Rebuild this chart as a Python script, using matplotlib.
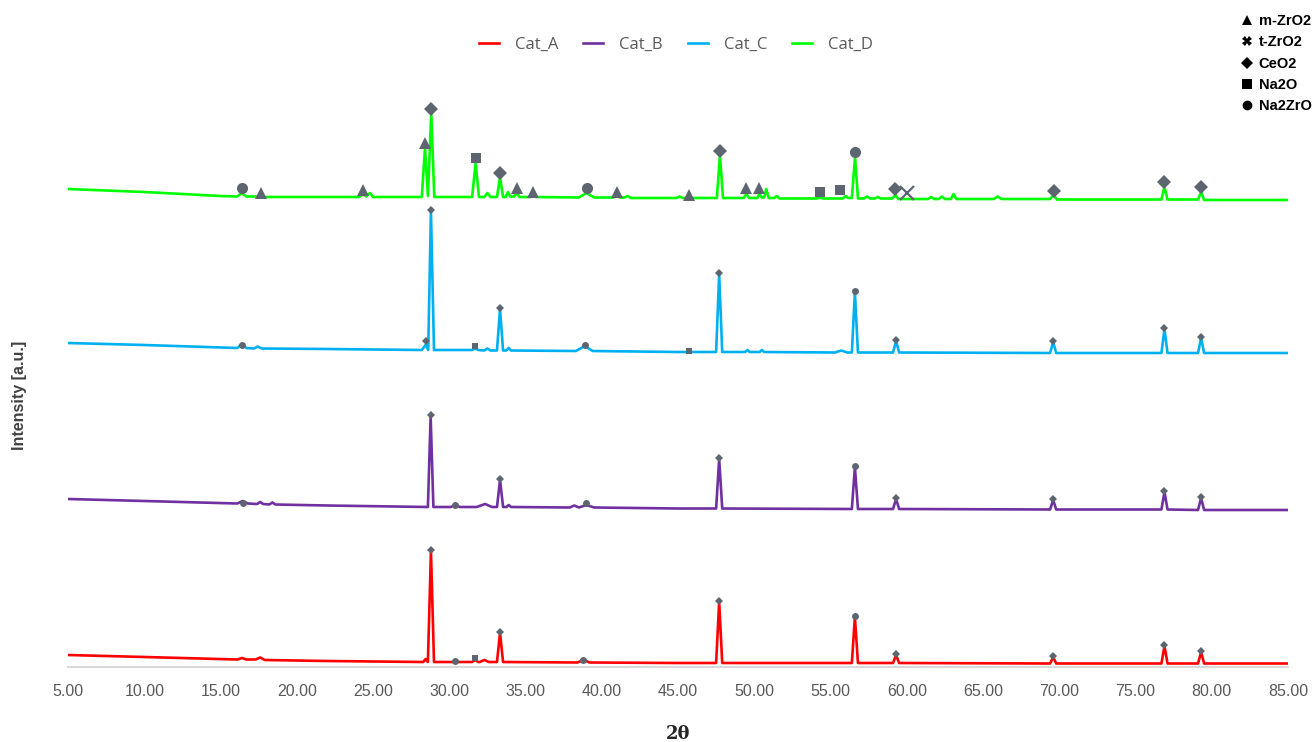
import matplotlib.pyplot as plt
from matplotlib.lines import Line2D

# 2-theta positions and intensities (intensity in a.u., stacked)
tt_a = [5, 10, 16.1, 16.4, 16.7, 17.3, 17.6, 17.9, 22, 28.3, 28.45, 28.6, 28.8, 29.0,
        31.5, 31.7, 31.9, 32.0, 32.3, 32.6, 33.13, 33.33, 33.53, 38.4, 38.8, 39.2, 45,
        47.5, 47.7, 47.9, 56.4, 56.6, 56.8, 59.1, 59.3, 59.5, 69.4, 69.6, 69.8,
        76.7, 76.9, 77.1, 79.1, 79.3, 79.5, 85]
int_a = [12, 10, 7.5, 9, 7.5, 7.5, 9.5, 7, 6, 5, 8, 5, 116, 5,
         5, 7, 5, 5, 7, 5, 5, 34, 5, 4.5, 7, 4.5, 4,
         4, 65, 4, 4, 50, 4, 4, 12, 4, 3.5, 10, 3.5,
         3.5, 21, 3.5, 3.5, 15, 3.5, 3.5]

tt_b = [5, 10, 16.1, 16.45, 16.8, 17.4, 17.6, 17.8, 18.2, 18.4, 18.6, 22, 28.6, 28.78, 28.96,
        30.1, 30.4, 30.7, 31.8, 32.35, 32.8, 33.13, 33.33, 33.53, 33.75, 33.9, 34.05,
        37.9, 38.2, 38.5, 39.0, 39.5, 45, 47.5, 47.7, 47.9, 56.4, 56.6, 56.8,
        59.1, 59.3, 59.5, 69.4, 69.6, 69.8, 76.7, 76.9, 77.1, 79.1, 79.3, 79.5, 85]
int_b = [168, 166, 163.5, 166, 163.5, 163, 165, 163, 162.5, 164.5, 162.5, 161.5, 160, 251, 160,
         160, 162, 160, 160, 163, 160, 160, 187, 160, 160, 162, 160,
         159.5, 161.5, 159.5, 162, 159.5, 158.5, 158.5, 208, 158.5, 158, 200, 158,
         158, 168, 158, 157.5, 167, 157.5, 157.5, 175, 157.5, 157, 169, 157, 157]

tt_c = [5, 10, 16.1, 16.4, 16.7, 17.2, 17.45, 17.7, 22, 28.2, 28.45, 28.62, 28.8, 29.0,
        31.5, 31.7, 31.9, 32.3, 32.5, 32.7, 33.13, 33.33, 33.53, 33.75, 33.9, 34.05,
        38.3, 38.9, 39.4, 45, 47.5, 47.7, 47.9, 49.4, 49.55, 49.7, 50.35, 50.5, 50.65,
        55.3, 55.7, 56.1, 56.4, 56.6, 56.8, 59.1, 59.3, 59.5, 69.4, 69.6, 69.8,
        76.7, 76.9, 77.1, 79.1, 79.3, 79.5, 85]
int_c = [324, 322, 319, 323, 319, 318.5, 320.5, 318.5, 318, 317, 322, 317, 456, 317,
         317, 318.5, 317, 316.5, 318.5, 316.5, 316.5, 358, 316.5, 316.5, 319, 316.5,
         316, 321, 316, 315, 315, 393, 315, 315, 317, 315, 315, 317, 315,
         314.5, 316.5, 314.5, 314.5, 375, 314.5, 314.5, 326, 314.5, 314, 325, 314,
         314, 338, 314, 314, 329, 314, 314]

tt_d = [5, 10, 15, 16.1, 16.39, 16.7, 17.4, 17.66, 17.9, 22, 24.1, 24.32, 24.55, 24.8, 25.0,
        28.2, 28.41, 28.6, 28.82, 29.02, 31.5, 31.73, 31.95, 32.3, 32.5, 32.7,
        33.13, 33.33, 33.53, 33.7, 33.85, 34.0, 34.25, 34.42, 34.6, 35.3, 35.5, 35.7,
        38.5, 39.0, 39.5, 40.75, 40.97, 41.2, 41.5, 41.7, 41.9, 44.9, 45.1, 45.3,
        47.55, 47.75, 47.95, 49.3, 49.49, 49.65, 50.2, 50.34, 50.5, 50.65, 50.79, 50.95,
        51.3, 51.48, 51.65, 54.1, 54.32, 54.5, 55.8, 56.0, 56.15, 56.4, 56.61, 56.8,
        57.2, 57.4, 57.6, 57.9, 58.1, 58.3, 59.05, 59.26, 59.45, 61.4, 61.6, 61.8,
        62.1, 62.3, 62.5, 62.9, 63.07, 63.25, 65.7, 65.96, 66.2, 69.4, 69.63, 69.85,
        76.7, 76.9, 77.1, 79.1, 79.3, 79.5, 85]
int_d = [478, 475, 471, 470.5, 474, 470.5, 470.5, 472, 470, 470, 470, 473, 470.5, 474, 470,
         470, 519, 471, 554, 470, 470, 504, 470, 470, 474, 470,
         470, 490, 470, 470, 475, 470.5, 470.5, 474, 470, 470, 472, 470,
         469.5, 474, 469.5, 469.5, 471, 469.5, 469.5, 471, 469, 469, 470.5, 469,
         469, 512, 469, 469, 473, 469, 469, 473, 469.5, 469.5, 478, 469,
         469, 471, 468.5, 468.5, 469.5, 468.5, 468.5, 471, 469, 469, 510, 468.5,
         468.5, 470.5, 468.5, 468.5, 470, 468.5, 468.5, 472, 468, 468, 470, 468,
         468, 470.5, 468, 468, 473, 468, 468, 470.5, 468, 468, 472, 467.5,
         467.5, 480, 467.5, 467.5, 475, 467, 467]

# phase markers on the peaks
ph_a = ['CeO2', 'Na2ZrO', 'Na2O', 'CeO2', 'Na2ZrO', 'CeO2', 'Na2ZrO', 'CeO2', 'CeO2', 'CeO2', 'CeO2']
mx_a = [28.8, 30.4, 31.7, 33.33, 38.8, 47.7, 56.6, 59.3, 69.6, 76.9, 79.3]
my_a = [117, 6, 9, 35, 7.5, 66, 51, 13, 11, 22, 16]

ph_b = ['Na2ZrO', 'CeO2', 'Na2ZrO', 'CeO2', 'Na2ZrO', 'CeO2', 'Na2ZrO', 'CeO2', 'CeO2', 'CeO2', 'CeO2']
mx_b = [16.45, 28.78, 30.4, 33.33, 38.97, 47.7, 56.6, 59.3, 69.6, 76.9, 79.3]
my_b = [164.5, 252, 162, 188, 164, 209, 201, 169, 168, 176, 170]

ph_c = ['Na2ZrO', 'CeO2', 'CeO2', 'Na2O', 'CeO2', 'Na2ZrO', 'Na2O', 'CeO2', 'Na2ZrO',
        'CeO2', 'CeO2', 'CeO2', 'CeO2']
mx_c = [16.4, 28.45, 28.8, 31.7, 33.33, 38.9, 45.7, 47.7, 56.6, 59.3, 69.6, 76.9, 79.3]
my_c = [322, 326, 457, 321, 359, 322, 316, 394, 376, 327, 326, 339, 330]

ph_d = ['Na2ZrO', 'm-ZrO2', 'm-ZrO2', 'm-ZrO2', 'CeO2', 'Na2O', 'CeO2', 'm-ZrO2', 'm-ZrO2',
        'Na2ZrO', 'm-ZrO2', 'm-ZrO2', 'CeO2', 'm-ZrO2', 'm-ZrO2', 'Na2O', 'Na2O', 'Na2ZrO',
        'CeO2', 't-ZrO2', 'CeO2', 'CeO2', 'CeO2']
mx_d = [16.39, 17.66, 24.32, 28.41, 28.82, 31.73, 33.33, 34.42, 35.5, 39.0, 40.97, 45.73,
        47.75, 49.49, 50.34, 54.32, 55.64, 56.61, 59.26, 60.04, 69.63, 76.9, 79.3]
my_d = [479, 474, 477, 524, 558, 509, 494, 479, 475, 479, 475, 472,
        516, 479, 479, 475, 477, 515, 478, 474, 476, 485, 480]

labels = ['Cat_A', 'Cat_B', 'Cat_C', 'Cat_D']
phases = ['m-ZrO2', 't-ZrO2', 'CeO2', 'Na2O', 'Na2ZrO']
xticks = [5, 10, 15, 20, 25, 30, 35, 40, 45, 50, 55, 60, 65, 70, 75, 80, 85]

colors = ['#ff0000', '#7030a0', '#00b0f0', '#00ff00']
mark_style = {'m-ZrO2': '^', 't-ZrO2': 'x', 'CeO2': 'D', 'Na2O': 's', 'Na2ZrO': 'o'}
mark_size = {'m-ZrO2': 5, 't-ZrO2': 6, 'CeO2': 4.2, 'Na2O': 4.5, 'Na2ZrO': 5}
grey = '#5d6670'

fig = plt.figure(figsize=(13.16, 7.42), dpi=100)
ax = fig.add_axes([68 / 1316, 75 / 742, 1220 / 1316, 647 / 742])

series = [(tt_a, int_a), (tt_b, int_b), (tt_c, int_c), (tt_d, int_d)]
for (x, y), lab, col in zip(series, labels, colors):
    ax.plot(x, y, color=col, lw=1.9, label=lab, solid_joinstyle='round')

marks = [(ph_a, mx_a, my_a, 1.0), (ph_b, mx_b, my_b, 1.0), (ph_c, mx_c, my_c, 1.0), (ph_d, mx_d, my_d, 1.6)]
for ph, mx, my, scale in marks:
    for p, xx, yy in zip(ph, mx, my):
        if p == 't-ZrO2':
            ax.plot(xx, yy, marker='x', color=grey, ms=mark_size[p] * scale, mew=1.6, ls='none', zorder=5)
        else:
            ax.plot(xx, yy, marker=mark_style[p], color=grey, ms=mark_size[p] * scale, mew=0, ls='none', zorder=5)

ax.set_xlim(5, 85)
ax.set_ylim(0, 647)
ax.set_xticks(xticks)
ax.set_xticklabels([f'{t:.2f}' for t in xticks])
ax.set_yticks([])
for s in ['top', 'right', 'left']:
    ax.spines[s].set_visible(False)
ax.spines['bottom'].set_color('#d9d9d9')
ax.spines['bottom'].set_linewidth(1.5)
ax.tick_params(axis='x', length=0, pad=12, labelsize=11.5, labelcolor='#595959')
for t in ax.get_xticklabels():
    t.set_family('Liberation Sans')

ax.set_xlabel('2θ', fontsize=13, fontweight='bold', family='DejaVu Serif', color='#262626', labelpad=19)
fig.text(20 / 1316, 1 - 395 / 742, 'Intensity [a.u.]', rotation=90, ha='center', va='center',
         fontsize=11.5, fontweight='bold', color='#404040', family='Liberation Sans')

leg = ax.legend(loc='center', bbox_to_anchor=(676 / 1316, 1 - 45 / 742), bbox_transform=fig.transFigure,
                ncol=4, frameon=False, handlelength=1.2, handletextpad=0.95, columnspacing=1.5,
                prop={'family': 'Open Sans', 'size': 12})
for t in leg.get_texts():
    t.set_color('#595959')

ph_handles = []
for p in phases:
    if p == 't-ZrO2':
        ph_handles.append(Line2D([], [], marker='X', color='black', ms=7, mew=0, ls='none'))
    else:
        ph_handles.append(Line2D([], [], marker=mark_style[p], color='black', ms=mark_size[p] + 2, mew=0, ls='none'))
fig.legend(ph_handles, phases, loc='upper left', bbox_to_anchor=(1228 / 1316, 1 - 1 / 742),
           frameon=False, handlelength=0.8, handletextpad=0.4, labelspacing=0.5,
           prop={'family': 'Liberation Sans', 'size': 10.5, 'weight': 'bold'})

fig.savefig('out.png', dpi=100)
